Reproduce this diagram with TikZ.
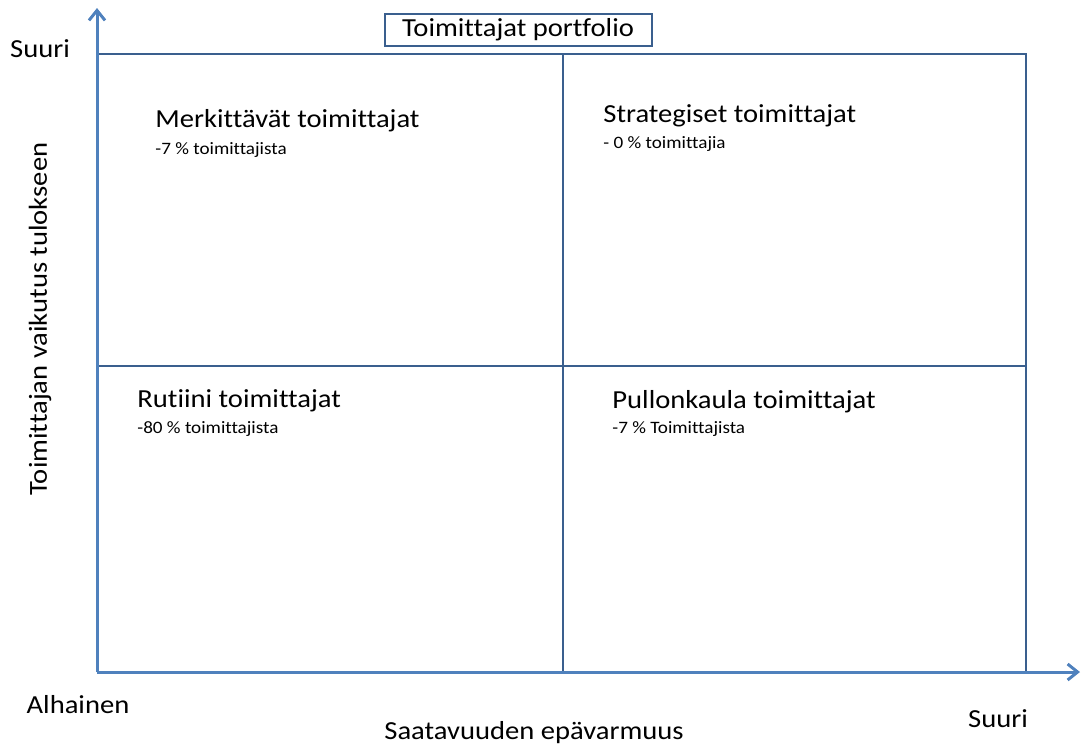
\documentclass[tikz,border=0pt]{standalone}
\usepackage{fontspec}
\setmainfont{Carlito}[FakeStretch=1.1, Ligatures=NoCommon]
\usetikzlibrary{arrows.meta}
\definecolor{axisblue}{HTML}{4F81BD}
\definecolor{boxblue}{HTML}{3A5F8E}
\tikzset{
  axis/.style={draw=axisblue, line width=1.5pt, -{Straight Barb[length=5pt,width=8pt]}},
  grid/.style={draw=boxblue, line width=1pt},
  head/.style={anchor=base west, inner sep=0pt, font=\fontsize{13}{15}\selectfont},
  sub/.style={anchor=base west, inner sep=0pt, font=\fontsize{8.7}{10}\selectfont},
  lbl/.style={inner sep=0pt, font=\fontsize{13}{15}\selectfont}
}
\begin{document}
\begin{tikzpicture}[x=0.5pt, y=-0.5pt]
    \useasboundingbox (0,0) rectangle (1082,745);
    % kulmat
    \coordinate (o) at (97,672);
    \coordinate (ytip) at (97,8);
    \coordinate (xtip) at (1080,672);
    \coordinate (tl) at (97,54);
    \coordinate (tr) at (1026,54);
    \coordinate (br) at (1026,672);
    \coordinate (mt) at (563,54);
    \coordinate (mb) at (563,672);
    \coordinate (ml) at (97,366);
    \coordinate (mr) at (1026,366);

    % ruudukko
    \draw[grid] (tl) -- (tr) -- (br);
    \draw[grid] (mt) -- (mb);
    \draw[grid] (ml) -- (mr);

    % akselit
    \draw[axis] (o) -- (ytip);
    \draw[axis] (o) -- (xtip);

    % otsikko
    \node[draw=boxblue, line width=1pt, lbl, minimum width=133.5pt, minimum height=16pt] (title) at (518,30) {Toimittajat portfolio};

    % akselien tekstit
    \node[lbl, anchor=base] (ysuuri) at (40,57) {Suuri};
    \node[lbl, rotate=90] (ylabel) at (40,319) {Toimittajan vaikutus tulokseen};
    \node[lbl, anchor=base] (alhainen) at (78,713) {Alhainen};
    \node[lbl, anchor=base] (xsuuri) at (998,727) {Suuri};
    \node[lbl, anchor=base] (xlabel) at (534,739) {Saatavuuden epävarmuus};

    % nelikentät
    \node[head] (merk) at (155,127) {Merkittävät toimittajat};
    \node[sub] (merk2) at (155,154) {-7 \% toimittajista};
    \node[head] (strat) at (603,122) {Strategiset toimittajat};
    \node[sub] (strat2) at (603,148) {- 0 \% toimittajia};
    \node[head] (rut) at (137,407) {Rutiini toimittajat};
    \node[sub] (rut2) at (137,433) {-80 \% toimittajista};
    \node[head] (pull) at (612,408) {Pullonkaula toimittajat};
    \node[sub] (pull2) at (612,433) {-7 \% Toimittajista};
\end{tikzpicture}
\end{document}
